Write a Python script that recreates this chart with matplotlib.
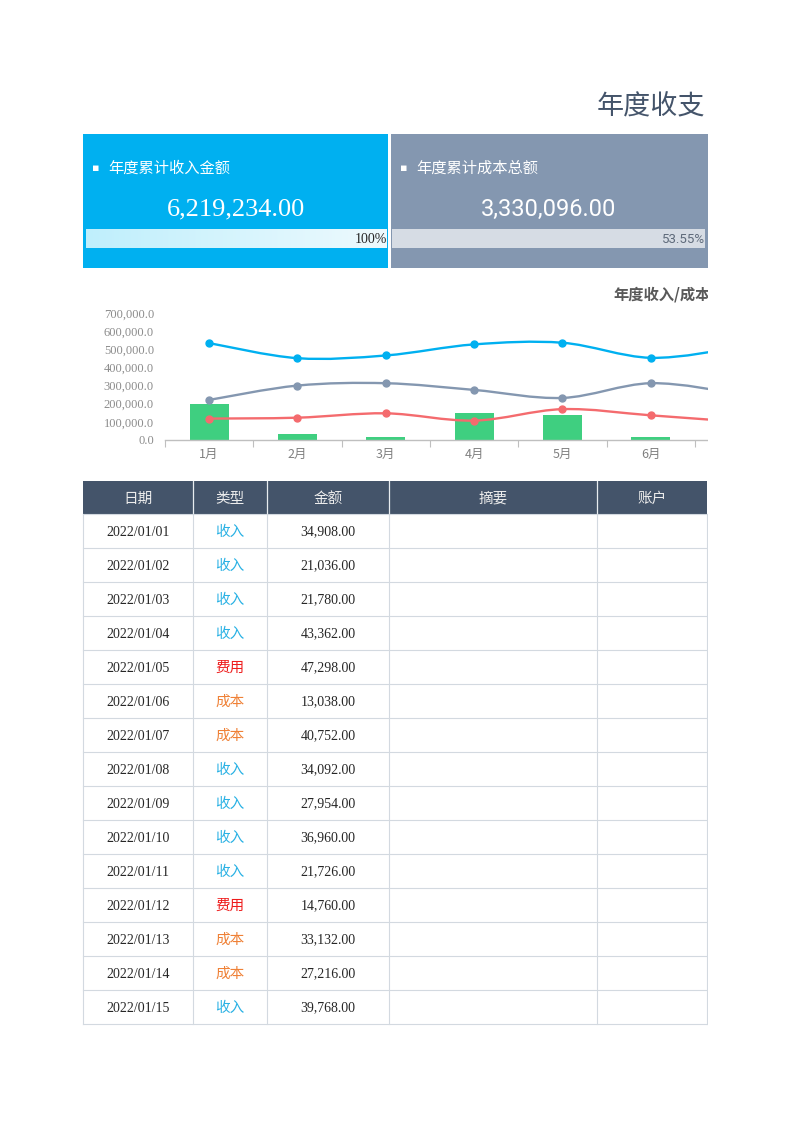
import numpy as np
import matplotlib
matplotlib.use("Agg")
import matplotlib.pyplot as plt
from matplotlib.path import Path
from matplotlib.patches import PathPatch, Rectangle
from matplotlib.colors import LinearSegmentedColormap

plt.rcParams['font.family'] = ['Noto Sans CJK SC', 'DejaVu Sans']

# ---------------- data ----------------
title = "年度收支"
card_labels = ["年度累计收入金额", "年度累计成本总额"]
card_values = [6219234.00, 3330096.00]
card_pcts = [1.0, 0.5355]

months = ["1月", "2月", "3月", "4月", "5月", "6月", "7月"]
income = [534000, 451000, 466000, 527000, 536000, 453000, 510000]
cost = [221000, 300000, 313000, 276000, 232000, 313000, 255000]
expense = [118000, 123000, 147000, 107000, 170000, 136000, 100000]
profit = [197000, 31000, 16000, 147000, 138000, 15000, 0]
chart_title = "年度收入/成本分析"
y_ticks = [0, 100000, 200000, 300000, 400000, 500000, 600000, 700000]

headers = ["日期", "类型", "金额", "摘要", "账户"]
dates = ["2022/01/01", "2022/01/02", "2022/01/03", "2022/01/04", "2022/01/05",
         "2022/01/06", "2022/01/07", "2022/01/08", "2022/01/09", "2022/01/10",
         "2022/01/11", "2022/01/12", "2022/01/13", "2022/01/14", "2022/01/15"]
types = ["收入", "收入", "收入", "收入", "费用", "成本", "成本", "收入",
         "收入", "收入", "收入", "费用", "成本", "成本", "收入"]
amounts = [34908.00, 21036.00, 21780.00, 43362.00, 47298.00, 13038.00, 40752.00,
           34092.00, 27954.00, 36960.00, 21726.00, 14760.00, 33132.00, 27216.00,
           39768.00]

# ---------------- style ----------------
W, H = 793, 1122
BLUE = "#00B0F0"
GRAY = "#8497B0"
DARK = "#44546A"
RED = "#F46B6E"
GREEN = "#3FCF80"
type_colors = {"收入": "#29B1E4", "费用": "#EE1C1C", "成本": "#EF8137"}
SERIF = "Liberation Serif"

fig = plt.figure(figsize=(W / 100, H / 100), dpi=100)
page = fig.add_axes([0, 0, 1, 1], zorder=0)
page.set_xlim(0, W)
page.set_ylim(H, 0)
page.axis("off")

# title
page.text(597, 107, title, fontsize=19.5, color=DARK, va="center", ha="left")

# ---------------- cards ----------------
cards = [
    dict(x0=83, x1=388, bg=BLUE, bar_x0=86, bar_x1=387,
         vfont=dict(family=SERIF, fontsize=19), pfont=dict(family=SERIF, fontsize=10),
         pcolor="#262626"),
    dict(x0=391, x1=708, bg=GRAY, bar_x0=392, bar_x1=705,
         vfont=dict(family="Roboto", fontsize=17),
         pfont=dict(family="Roboto", fontsize=9.5),
         pcolor="#5E6A7A"),
]
for i, c in enumerate(cards):
    page.add_patch(Rectangle((c["x0"], 134), c["x1"] - c["x0"], 134,
                             facecolor=c["bg"], edgecolor="none"))
    page.text(c["x0"] + 9, 168, "▪", fontsize=8, color="white", va="center",
              ha="left", family=["DejaVu Sans"])
    page.text(c["x0"] + 25, 168, card_labels[i], fontsize=11, color="white",
              va="center", ha="left")
    cx = (c["x0"] + min(c["x1"], 706)) / 2
    page.text(cx, 209, f"{card_values[i]:,.2f}", color="white", va="center",
              ha="center", **c["vfont"])
    bw = c["bar_x1"] - c["bar_x0"]
    if i == 0:
        grad = np.linspace(0, 1, 256).reshape(1, -1)
        cmap = LinearSegmentedColormap.from_list("g", ["#BFEFFC", "#EEFAFE"])
        page.imshow(grad, cmap=cmap, aspect="auto",
                    extent=(c["bar_x0"], c["bar_x0"] + bw * card_pcts[i], 248, 229),
                    zorder=2)
    else:
        page.add_patch(Rectangle((c["bar_x0"], 229), bw, 19,
                                 facecolor="#D6DCE4", edgecolor="none", zorder=2))
    pct_txt = f"{card_pcts[i] * 100:.0f}%" if card_pcts[i] == 1 else f"{card_pcts[i] * 100:.2f}%"
    page.text(c["bar_x1"], 239, pct_txt, color=c["pcolor"], va="center",
              ha="right", zorder=3, **c["pfont"])

# ---------------- chart ----------------
step = 88.33
ax = fig.add_axes([165 / W, 1 - 440 / H, len(months) * step / W, 127 / H], zorder=1)
ax.set_facecolor("none")
x = np.arange(len(months))
ax.bar(x, profit, width=0.44, color=GREEN, zorder=2)


def smooth(ax, xs, ys, color):
    pts = np.column_stack([xs, ys]).astype(float)
    n = len(pts)
    verts = [pts[0]]
    codes = [Path.MOVETO]
    for i in range(n - 1):
        p0 = pts[i - 1] if i > 0 else pts[i]
        p3 = pts[i + 2] if i + 2 < n else pts[i + 1]
        c1 = pts[i] + (pts[i + 1] - p0) / 6
        c2 = pts[i + 1] - (p3 - pts[i]) / 6
        verts += [c1, c2, pts[i + 1]]
        codes += [Path.CURVE4] * 3
    ax.add_patch(PathPatch(Path(verts, codes), fill=False, edgecolor=color,
                           lw=1.7, zorder=3, capstyle="round"))
    ax.plot(xs, ys, "o", color=color, ms=5, zorder=4)


smooth(ax, x, income, BLUE)
smooth(ax, x, cost, GRAY)
smooth(ax, x, expense, RED)

ax.set_xlim(-0.5, len(months) - 0.5)
ax.set_ylim(0, 700000)
ax.set_yticks(y_ticks)
ax.set_yticklabels([f"{v:,.1f}" for v in y_ticks], family=SERIF, fontsize=9,
                   color="#8C8C8C")
ax.tick_params(axis="y", length=0, pad=8)
ax.set_xticks(np.arange(-0.5, len(months), 1))
ax.set_xticklabels([])
ax.set_xticks(x, minor=True)
ax.set_xticklabels(months, minor=True, fontsize=9, color="#808080")
ax.tick_params(axis="x", which="major", length=5, color="#BFBFBF", direction="out")
ax.tick_params(axis="x", which="minor", length=0, pad=6)
for s in ["top", "right", "left"]:
    ax.spines[s].set_visible(False)
ax.spines["bottom"].set_color("#BFBFBF")
ax.spines["bottom"].set_linewidth(1)
page.text(613, 294, chart_title, fontsize=11, color="#595959", va="center",
          ha="left", fontweight="bold")

# ---------------- table ----------------
col_edges = [83, 193, 267, 389, 597, 707]
top, hh, rh = 481, 33, 34
page.add_patch(Rectangle((col_edges[0], top), col_edges[-1] - col_edges[0], hh,
                         facecolor=DARK, edgecolor="none"))
for j, h in enumerate(headers):
    cx = (col_edges[j] + col_edges[j + 1]) / 2
    page.text(cx, top + hh / 2 + 1, h, fontsize=10.5, color="#ECECEC",
              ha="center", va="center")
for xe in col_edges[1:-1]:
    page.plot([xe, xe], [top, top + hh], color="#E8ECF0", lw=0.9)
body_top = top + hh
n = len(dates)
body_bot = body_top + n * rh
line_c = "#D3D9E0"
for r in range(n + 1):
    yy = body_top + r * rh
    page.plot([col_edges[0], col_edges[-1]], [yy, yy], color=line_c, lw=0.8)
for xe in col_edges:
    page.plot([xe, xe], [body_top, body_bot], color=line_c, lw=0.8)
for r in range(n):
    yc = body_top + r * rh + rh / 2 + 1
    page.text((col_edges[0] + col_edges[1]) / 2, yc, dates[r], family=SERIF,
              fontsize=10, color="#262626", ha="center", va="center")
    page.text((col_edges[1] + col_edges[2]) / 2, yc, types[r], fontsize=10.5,
              color=type_colors[types[r]], ha="center", va="center")
    page.text((col_edges[2] + col_edges[3]) / 2, yc, f"{amounts[r]:,.2f}",
              family=SERIF, fontsize=10, color="#262626", ha="center", va="center")

# ---------------- print-area crop ----------------
mask = fig.add_axes([0, 0, 1, 1], zorder=10)
mask.set_xlim(0, W)
mask.set_ylim(H, 0)
mask.axis("off")
mask.patch.set_alpha(0)
mask.add_patch(Rectangle((708, 0), W - 708, H, facecolor="white", edgecolor="none"))

fig.savefig("out.png", dpi=100, facecolor="white")
